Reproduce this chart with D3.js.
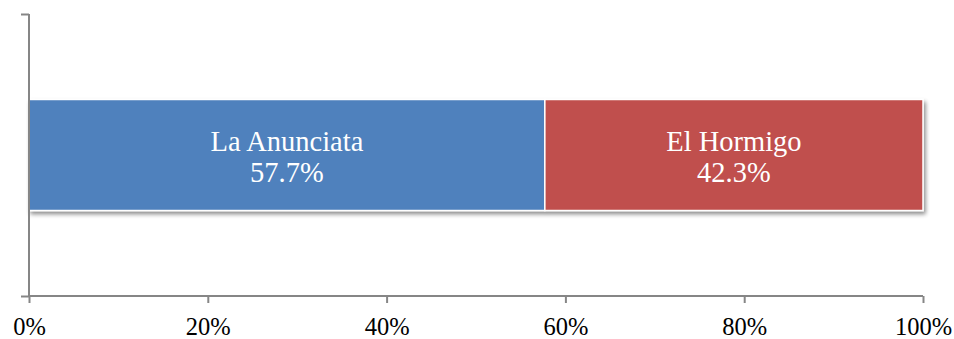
<!DOCTYPE html>
<html>
<head>
<meta charset="utf-8">
<script src="https://cdn.jsdelivr.net/npm/d3@7"></script>
<style>
  body { margin: 0; background: #fff; }
  text { font-family: "Liberation Serif", "Times New Roman", serif; }
</style>
</head>
<body>
<div id="chart"></div>
<script>
// data
var categories = ["La Anunciata", "El Hormigo"];
var shares = [57.7, 42.3];
var colors = ["#4F81BD", "#C0504D"];
var tickValues = [0, 20, 40, 60, 80, 100];

var W = 954, H = 339;
var margin = {top: 14, right: 31, bottom: 43, left: 29},
    width = W - margin.left - margin.right,
    height = H - margin.top - margin.bottom;

var svg = d3.select("#chart").append("svg")
    .attr("width", W).attr("height", H)
  .append("g")
    .attr("transform", "translate(" + margin.left + "," + margin.top + ")");

// soft drop shadow under the bar
var defs = svg.append("defs");
var f = defs.append("filter").attr("id", "shadow")
  .attr("x", "-5%").attr("y", "-20%").attr("width", "110%").attr("height", "150%");
f.append("feGaussianBlur").attr("in", "SourceAlpha").attr("stdDeviation", 2);
f.append("feOffset").attr("dx", 2).attr("dy", 3).attr("result", "b");
f.append("feComponentTransfer").append("feFuncA").attr("type", "linear").attr("slope", 0.45);
var m = f.append("feMerge");
m.append("feMergeNode");
m.append("feMergeNode").attr("in", "SourceGraphic");

var x = d3.scaleLinear().domain([0, 100]).range([0, width]);
var y = d3.scaleBand().domain(["row"]).range([0, height]).paddingInner(0).paddingOuter(0.77);

// stacked positions
var stacked = [];
var acc = 0;
categories.forEach(function(c, i) {
  stacked.push({name: c, value: shares[i], x0: acc, x1: acc + shares[i], color: colors[i]});
  acc += shares[i];
});

var bars = svg.append("g").attr("filter", "url(#shadow)");
bars.selectAll("rect")
  .data(stacked)
  .enter().append("rect")
    .attr("x", function(d) { return x(d.x0); })
    .attr("y", y("row"))
    .attr("width", function(d) { return x(d.x1) - x(d.x0); })
    .attr("height", y.bandwidth())
    .attr("fill", function(d) { return d.color; })
    .attr("stroke", "#fff")
    .attr("stroke-width", 1.5);

var cy = y("row") + y.bandwidth() / 2;
var labels = svg.selectAll(".lbl")
  .data(stacked)
  .enter().append("text")
    .attr("class", "lbl")
    .attr("text-anchor", "middle")
    .attr("fill", "#fff")
    .style("font-size", "28.5px");
labels.append("tspan")
  .attr("x", function(d) { return x((d.x0 + d.x1) / 2); })
  .attr("y", cy - 4.5)
  .text(function(d) { return d.name; });
labels.append("tspan")
  .attr("x", function(d) { return x((d.x0 + d.x1) / 2); })
  .attr("y", cy + 26.5)
  .text(function(d) { return d.value.toFixed(1) + "%"; });

// x axis
var xAxis = svg.append("g")
  .attr("transform", "translate(0," + height + ")")
  .call(d3.axisBottom(x).tickValues(tickValues).tickSize(7)
    .tickFormat(function(d) { return d + "%"; }));
xAxis.select(".domain").attr("stroke", "#868686").attr("stroke-width", 2).attr("d", "M0,0H" + width);
xAxis.selectAll(".tick line").attr("stroke", "#868686").attr("stroke-width", 2);
xAxis.selectAll(".tick text").attr("fill", "#000").attr("y", 39).attr("dy", 0).style("font-size", "24.5px");

// y axis
var yAxis = svg.append("g")
  .call(d3.axisLeft(d3.scaleLinear().domain([0, 1]).range([height, 0])).tickValues([0, 1]).tickSize(8).tickFormat(""));
yAxis.select(".domain").attr("stroke", "#868686").attr("stroke-width", 2).attr("d", "M0," + height + "V0");
yAxis.selectAll(".tick line").attr("stroke", "#868686").attr("stroke-width", 2);
</script>
</body>
</html>
